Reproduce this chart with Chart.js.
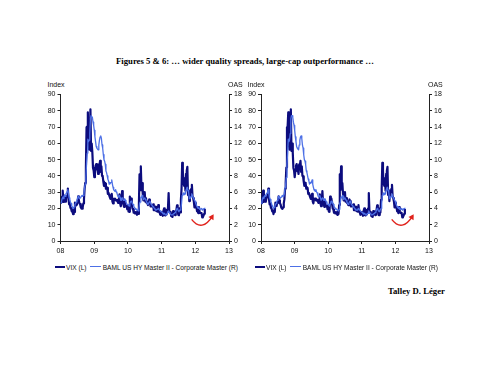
<!DOCTYPE html>
<html>
<head>
<meta charset="utf-8">
<script src="https://cdn.jsdelivr.net/npm/chart.js@4.4.1/dist/chart.umd.min.js"></script>
<style>
  html, body { margin:0; padding:0; background:#fff; }
  body { width:490px; height:378px; position:relative; overflow:hidden; }
  canvas { position:absolute; }
  .t { position:absolute; white-space:nowrap; font-family:"Liberation Sans", Arial, sans-serif; color:#111; }
  .title { font-family:"Liberation Serif","Times New Roman",serif; font-weight:bold; font-size:8.7px; color:#000; }
  .ax { font-size:7px; line-height:7px; }
  .lg { font-size:6.6px; line-height:7px; }
  .sw { position:absolute; }
</style>
</head>
<body>
<div class="t title" id="title" style="left:0;width:490px;text-align:center;top:56px;">Figures 5 &amp; 6: … wider quality spreads, large-cap outperformance …</div>
<div class="t title" style="left:388px;top:286px;">Talley D. Léger</div>

<canvas id="c1" width="230" height="172" style="left:25px;top:88px;"></canvas>
<canvas id="c2" width="215" height="172" style="left:240px;top:88px;"></canvas>

<div id="labels"></div>

<script>
// ---------- DATA (weekly, first week ending 4 Jan 2008) ----------
const firstWeek = [2008, 0, 4];

const vixValues = [
  // 2008
  23.2,23.7,27.2,31.0,24.0,28.0,25.0,24.1,26.5,27.5,27.0,32.2,25.7,22.5,23.0,20.3,20.0,18.2,18.7,16.5,19.0,17.8,
  23.6,21.5,22.2,23.4,23.5,27.5,25.0,23.0,22.6,20.7,20.0,19.8,20.7,23.1,25.7,32.1,35.7,45.1,69.9,70.3,79.1,59.9,
  56.1,59.8,80.9,55.3,59.9,54.3,44.9,43.4,
  // 2009
  39.2,42.8,46.1,47.3,44.8,43.4,41.2,47.1,46.4,49.3,42.4,45.9,40.0,39.7,36.5,33.9,35.8,35.3,32.1,33.1,32.6,28.9,
  29.6,28.2,27.0,25.9,27.9,29.0,24.3,23.1,25.9,25.4,26.0,25.0,24.8,25.3,24.2,23.4,25.6,28.7,23.1,21.4,24.4,30.7,
  23.4,22.7,21.0,24.7,21.3,21.6,21.7,19.5,
  // 2010
  21.7,18.1,17.9,27.3,24.6,26.1,22.7,20.0,19.5,17.4,17.6,16.9,17.8,17.5,16.1,18.4,16.6,22.1,41.0,31.2,45.8,32.1,
  35.5,28.8,24.9,28.5,30.1,24.1,26.3,23.5,23.5,22.1,24.1,25.5,24.5,21.3,21.2,22.0,21.7,22.5,18.9,19.0,19.1,21.2,
  18.3,20.6,18.0,22.0,18.0,17.6,16.1,16.5,17.8,
  // 2011
  17.1,15.5,18.5,20.0,15.9,15.7,16.4,19.2,19.1,20.1,29.4,17.9,17.4,17.9,15.3,15.1,14.8,18.4,17.1,17.4,15.9,17.9,
  18.9,21.9,19.2,16.0,15.9,20.0,17.5,25.3,32.0,48.0,43.1,35.6,33.9,38.5,30.9,41.3,43.0,45.5,28.2,31.3,24.5,30.5,
  30.0,32.0,34.5,27.5,26.3,24.3,20.7,23.4,
  // 2012
  20.6,20.9,18.3,18.5,17.1,20.8,17.8,17.3,17.3,17.1,14.5,15.0,15.5,16.7,19.6
];

const oasValues = [
  // 2008
  4.6,4.8,5.2,5.4,5.2,5.5,5.6,5.5,5.8,5.9,6.1,6.3,5.8,5.3,5.1,4.8,4.6,4.3,4.2,4.0,4.1,4.2,
  4.5,4.6,4.8,5.0,5.2,5.5,5.4,5.2,5.3,5.4,5.5,5.6,5.5,5.6,5.8,6.6,7.0,7.8,9.5,10.8,12.5,12.2,
  12.4,13.2,15.0,15.4,15.4,15.2,14.6,14.2,
  // 2009
  13.6,12.8,12.2,11.6,11.4,11.3,11.2,11.8,12.4,12.8,12.9,12.6,11.8,11.4,10.6,10.0,9.8,9.4,8.6,8.4,8.0,7.6,
  7.4,7.0,7.2,7.1,7.2,7.5,7.0,6.6,6.3,6.2,6.1,6.3,6.0,5.9,5.6,5.4,5.5,5.6,5.3,5.0,5.0,5.3,
  5.2,5.0,5.0,5.2,5.0,4.8,4.6,4.5,
  // 2010
  4.5,4.4,4.3,4.6,4.8,4.9,4.8,4.6,4.5,4.3,4.1,4.0,3.9,3.9,3.8,3.8,3.7,3.9,4.6,4.8,5.4,5.3,
  5.6,5.5,5.1,5.2,5.3,5.1,5.0,4.8,4.6,4.5,4.6,4.8,4.9,4.7,4.5,4.4,4.3,4.2,4.1,4.0,3.9,3.8,
  3.8,3.8,3.9,4.0,3.9,3.8,3.7,3.6,3.6,
  // 2011
  3.5,3.4,3.3,3.4,3.3,3.2,3.2,3.3,3.4,3.4,3.7,3.5,3.4,3.3,3.2,3.2,3.2,3.3,3.3,3.4,3.5,3.6,
  3.8,4.0,3.9,3.7,3.6,3.8,3.8,4.0,4.6,5.6,5.8,5.9,5.7,5.9,5.8,6.3,6.5,6.6,6.2,6.0,5.2,5.4,
  5.3,5.5,5.8,5.5,5.3,5.2,5.0,4.9,
  // 2012
  4.6,4.4,4.2,4.1,4.0,4.1,3.9,3.9,3.9,4.0,3.8,3.9,3.9,4.0,4.1
];

const yearTicks = [2008, 2009, 2010, 2011, 2012, 2013];
const indexTicks = [0, 90, 10];   // min, max, step (left axis)
const oasTicks = [0, 18, 2];      // min, max, step (right axis)

const legendLabels = ['VIX (L)', 'BAML US HY Master II - Corporate Master (R)'];
const axisTitles = ['Index', 'OAS'];

// red curved arrow annotation (data coordinates: start, control, end)
const arrowPath = [[2011.89, 13.3], [2012.2, 5.0], [2012.52, 15.6]];

// ---------- helpers ----------
function decYear(d) {
  const y = d.getFullYear();
  const s = new Date(y, 0, 1), e = new Date(y + 1, 0, 1);
  return y + (d - s) / (e - s);
}
const weekX = vixValues.map((_, i) => decYear(new Date(firstWeek[0], firstWeek[1], firstWeek[2] + 7 * i)));

const C_VIX = '#0c0c7e';
const C_OAS = '#4d70e6';
const FONT = '"Liberation Sans", Arial, sans-serif';

const arrowPlugin = {
  id: 'arrow',
  afterDatasetsDraw(chart) {
    const xs = chart.scales.x, ys = chart.scales.y;
    const p = arrowPath.map(a => [xs.getPixelForValue(a[0]), ys.getPixelForValue(a[1])]);
    const ctx = chart.ctx;
    ctx.save();
    ctx.strokeStyle = '#e0231c';
    ctx.fillStyle = '#e0231c';
    ctx.lineWidth = 1.4;
    ctx.beginPath();
    ctx.moveTo(p[0][0], p[0][1]);
    ctx.quadraticCurveTo(p[1][0], p[1][1], p[2][0], p[2][1]);
    ctx.stroke();
    const ang = Math.atan2(p[2][1] - p[1][1], p[2][0] - p[1][0]);
    const L = 5, W = 3;
    const tx = p[2][0] + Math.cos(ang) * 1.5, ty = p[2][1] + Math.sin(ang) * 1.5;
    ctx.beginPath();
    ctx.moveTo(tx, ty);
    ctx.lineTo(tx - L * Math.cos(ang) - W * Math.sin(ang), ty - L * Math.sin(ang) + W * Math.cos(ang));
    ctx.lineTo(tx - L * Math.cos(ang) + W * Math.sin(ang), ty - L * Math.sin(ang) - W * Math.cos(ang));
    ctx.closePath();
    ctx.fill();
    ctx.restore();
  }
};

function makeChart(id, leftW, rightW) {
  const axisCommon = {
    grid: { drawOnChartArea: false, drawTicks: true, tickLength: 3, color: '#222', lineWidth: 1 },
    border: { display: true, color: '#222', width: 1 },
    ticks: { font: { family: FONT, size: 7 }, color: '#111', padding: 2 }
  };
  return new Chart(document.getElementById(id), {
    type: 'line',
    data: {
      datasets: [
        { label: legendLabels[0], data: weekX.map((x, i) => ({ x, y: vixValues[i] })),
          yAxisID: 'y', borderColor: C_VIX, borderWidth: 2.2, order: 1 },
        { label: legendLabels[1], data: weekX.map((x, i) => ({ x, y: oasValues[i] })),
          yAxisID: 'y1', borderColor: C_OAS, borderWidth: 1.3, order: 0 }
      ]
    },
    options: {
      responsive: false,
      animation: false,
      devicePixelRatio: 1,
      layout: { padding: { top: 6.5, left: 0, right: 0, bottom: 0 } },
      elements: { point: { radius: 0 }, line: { tension: 0, borderJoinStyle: 'round' } },
      plugins: { legend: { display: false }, tooltip: { enabled: false } },
      scales: {
        x: {
          type: 'linear', min: yearTicks[0], max: yearTicks[yearTicks.length - 1],
          afterBuildTicks: s => { s.ticks = yearTicks.map(v => ({ value: v })); },
          afterFit: s => { s.height = 19; },
          ...axisCommon,
          ticks: { ...axisCommon.ticks, padding: 3, maxRotation: 0, autoSkip: false,
                   callback: v => String(v % 100).padStart(2, '0') }
        },
        y: {
          position: 'left', min: indexTicks[0], max: indexTicks[1],
          afterFit: s => { s.width = leftW; },
          ...axisCommon,
          ticks: { ...axisCommon.ticks, stepSize: indexTicks[2] }
        },
        y1: {
          position: 'right', min: oasTicks[0], max: oasTicks[1],
          afterFit: s => { s.width = rightW; },
          ...axisCommon,
          ticks: { ...axisCommon.ticks, stepSize: oasTicks[2] }
        }
      }
    },
    plugins: [arrowPlugin]
  });
}

makeChart('c1', 35.5, 26);
makeChart('c2', 21, 26);

// ---------- HTML text: axis titles & legends ----------
const lab = document.getElementById('labels');
function addText(cls, txt, left, top) {
  const d = document.createElement('div');
  d.className = 't ' + cls;
  d.textContent = txt;
  d.style.left = left + 'px';
  d.style.top = top + 'px';
  lab.appendChild(d);
}
function addSwatch(left, width, top, h, color) {
  const d = document.createElement('div');
  d.className = 'sw';
  d.style.left = left + 'px'; d.style.width = width + 'px';
  d.style.top = top + 'px'; d.style.height = h + 'px';
  d.style.background = color;
  lab.appendChild(d);
}
[0, 200].forEach(dx => {
  addText('ax', axisTitles[0], 47.5 + dx, 80.5);
  addText('ax', axisTitles[1], 228 + dx, 80.5);
  addSwatch(55 + dx, 10, 265.5, 2.4, C_VIX);
  addText('lg', legendLabels[0], 66 + dx, 263.5);
  addSwatch(89.5 + dx, 11, 266, 1.3, C_OAS);
  addText('lg', legendLabels[1], 102.7 + dx, 263.5);
});
</script>
</body>
</html>
